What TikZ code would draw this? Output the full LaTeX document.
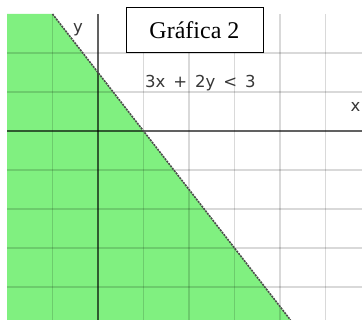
\documentclass[tikz,border=0pt]{standalone}
\usepackage{fontspec}
\setmainfont{Liberation Serif}
\newfontfamily\rotulo{DejaVu Sans}
\definecolor{verderegion}{RGB}{128,240,128}
\definecolor{grisrotulo}{RGB}{55,55,55}

\begin{document}
\begin{tikzpicture}[x=45.5pt, y=39pt,
    rejilla/.style={black, opacity=0.15, line width=1.9pt},
    eje/.style={black, opacity=0.62, line width=1.5pt},
    frontera/.style={black!70, line width=1.6pt, dash pattern=on 2pt off 1pt},
    texto/.style={font=\rotulo\fontsize{16.5}{16.5}\selectfont, text=grisrotulo, inner sep=0pt}]

    \useasboundingbox[fill=white] (-2.154,-4.846) rectangle (5.802,3.359);

    % region 3x + 2y < 3
    \fill[verderegion] (-2,3) -- (-1,3) -- (4.23,-4.846) -- (-2,-4.846) -- cycle;

    % rejilla
    \foreach \i in {-1,1,2,3,4,5}
        \draw[rejilla] (\i,-4.846) -- (\i,3);
    \foreach \j in {-4,-3,-2,-1,1,2}
        \draw[rejilla] (-2,\j) -- (5.802,\j);

    % ejes
    \draw[eje] (-2,0) -- (5.802,0);
    \draw[eje] (0,3) -- (0,-4.846);

    % recta 3x + 2y = 3
    \draw[frontera] (-1,3) -- (4.23,-4.846);

    \node[texto] (ejey) at (-0.44,2.6) {y};
    \node[texto] (ejex) at (5.66,0.62) {x};
    \node[texto, anchor=west] (desigualdad) at (1.03,1.24)
        {3x\hspace{8pt}+\hspace{8pt}2y\hspace{8pt}<\hspace{8pt}3};

    \node[draw, fill=white, line width=0.8pt, minimum width=137pt, minimum height=45pt,
        font=\fontsize{24}{24}\selectfont] (etiqueta) at (2.12,2.58) {Gráfica 2};

\end{tikzpicture}
\end{document}
